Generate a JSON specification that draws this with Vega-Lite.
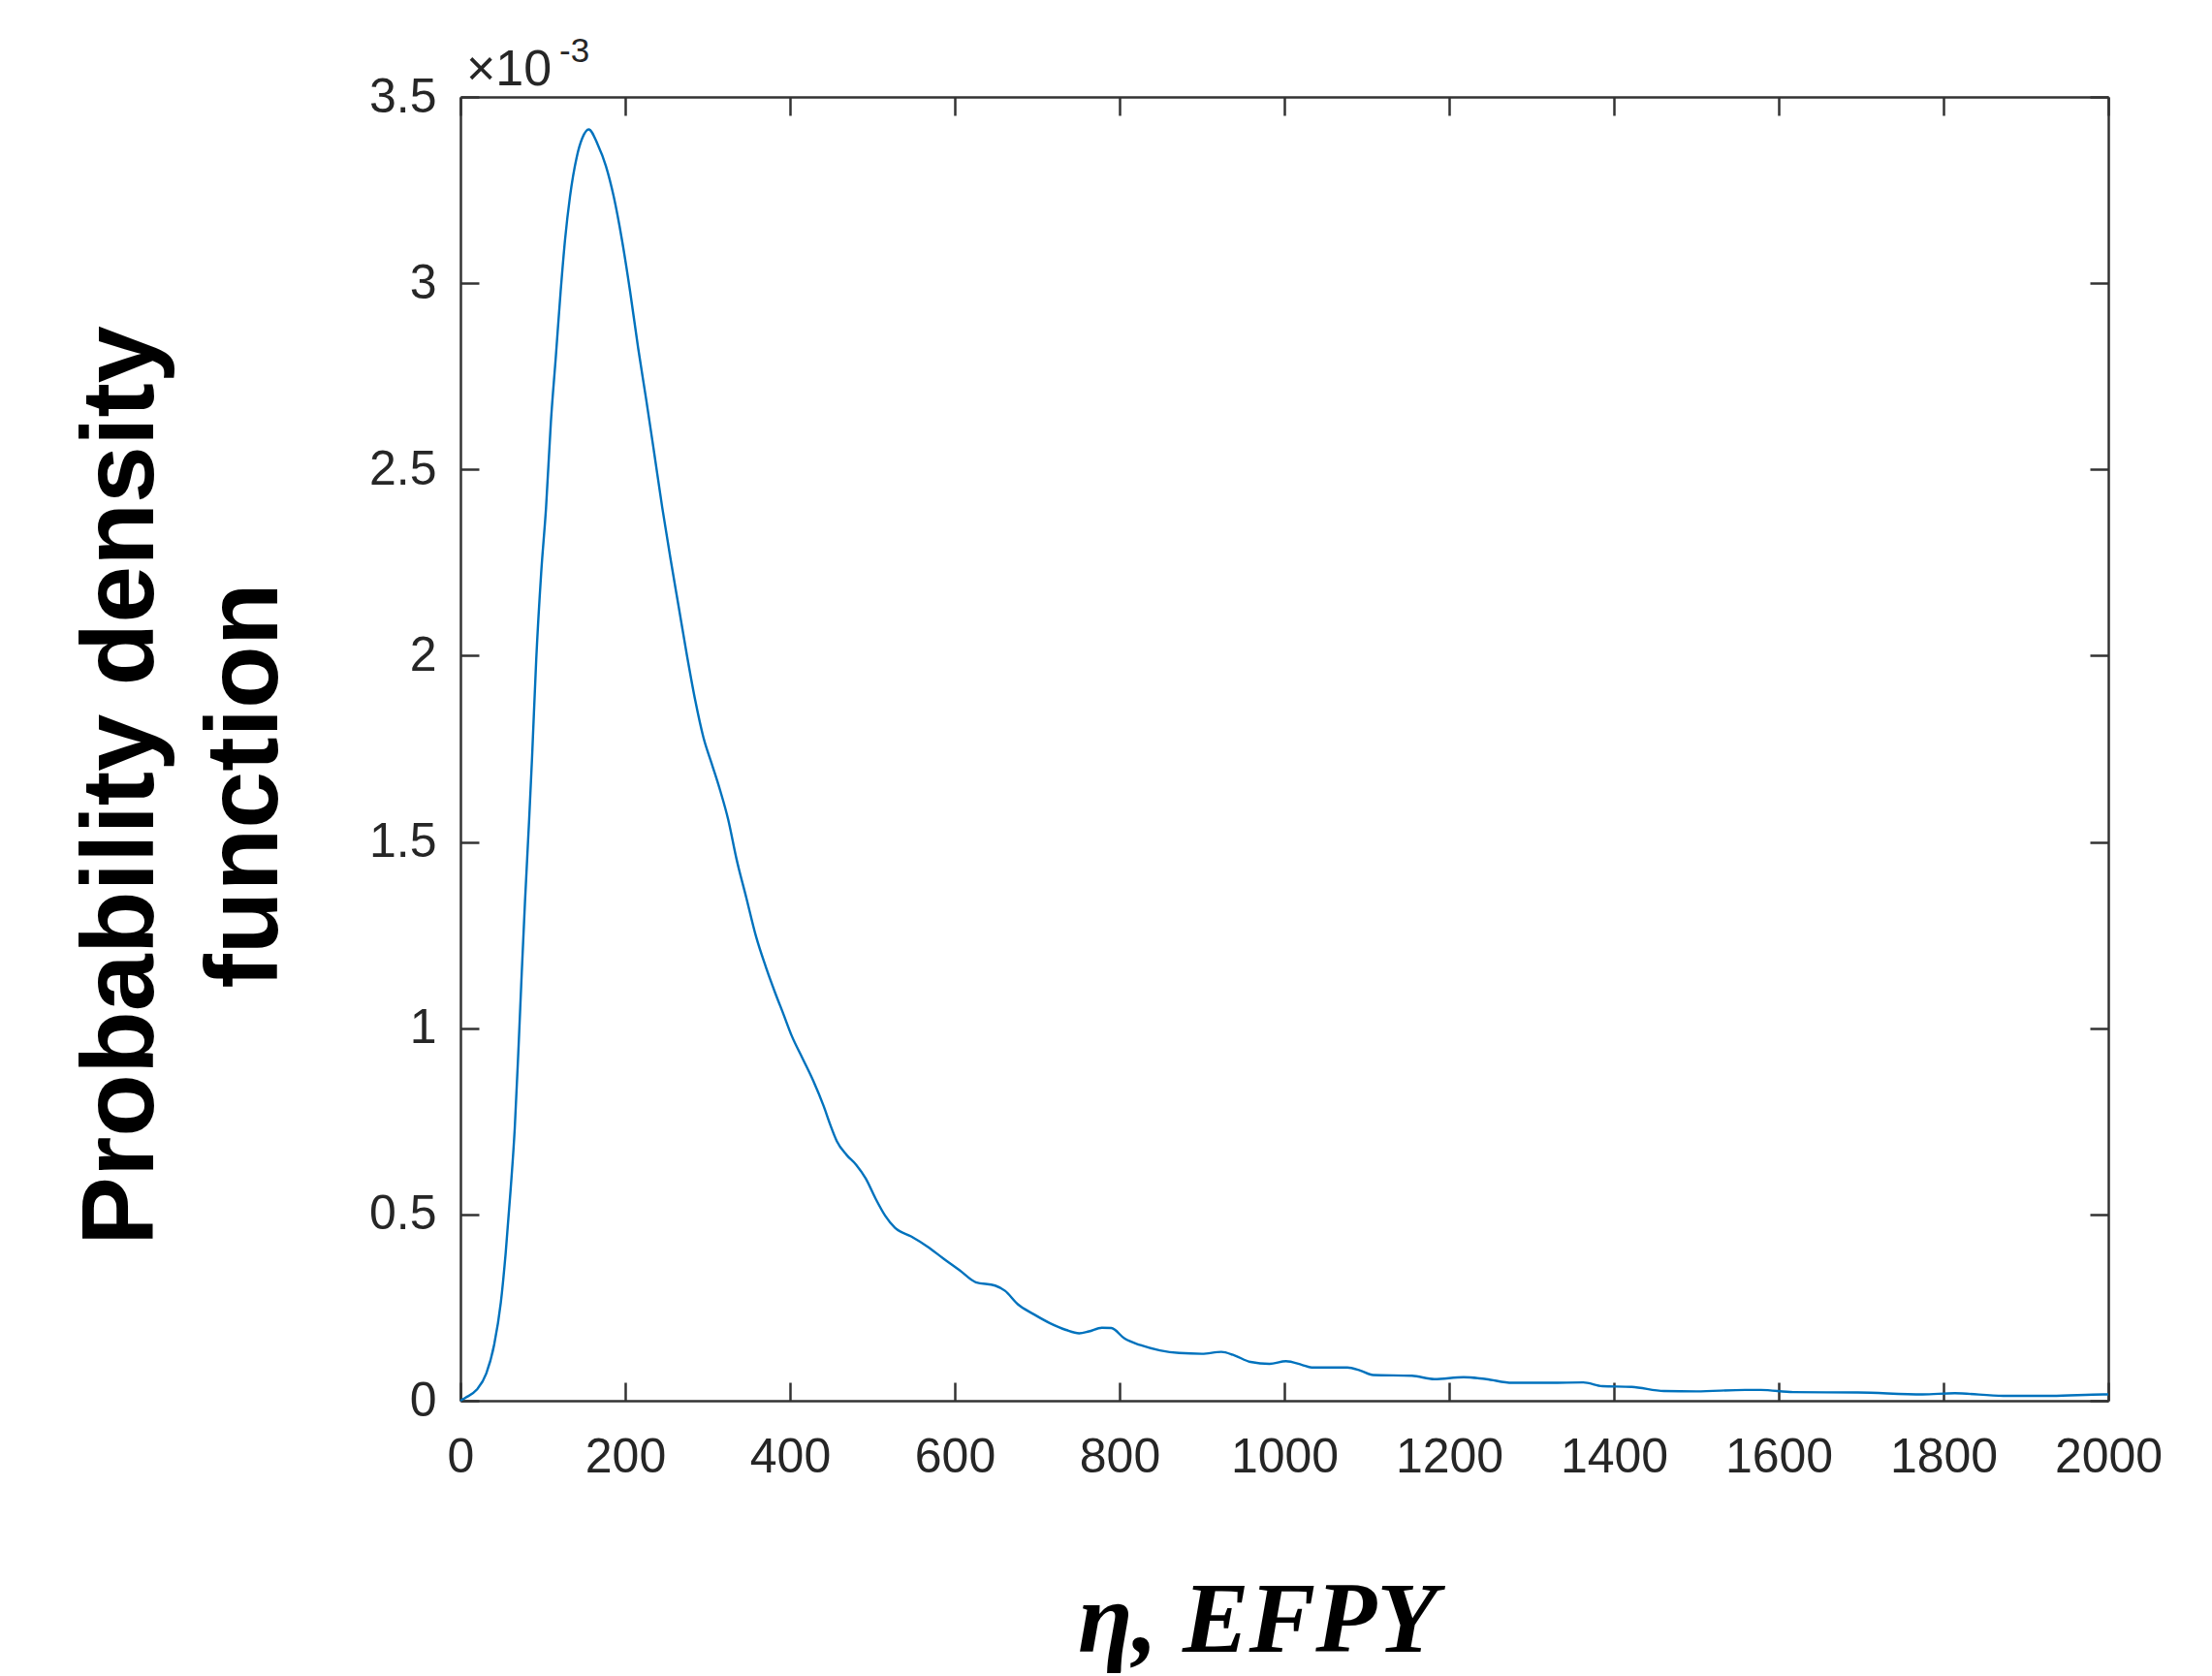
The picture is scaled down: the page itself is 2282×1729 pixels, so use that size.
{
  "$schema": "https://vega.github.io/schema/vega-lite/v6.json",
  "width": 1700,
  "height": 1345,
  "autosize": {"type": "none"},
  "padding": {"left": 475, "top": 100, "right": 107, "bottom": 284},
  "background": "white",
  "config": {"view": {"stroke": null}, "font": "Liberation Sans"},
  "datasets": {
    "pdf": [
      {"eta": 0, "pdf": 0.0},
      {"eta": 6, "pdf": 0.000008},
      {"eta": 19.6, "pdf": 0.000029},
      {"eta": 31.4, "pdf": 0.000073},
      {"eta": 41, "pdf": 0.000151},
      {"eta": 49, "pdf": 0.000263},
      {"eta": 54.9, "pdf": 0.000396},
      {"eta": 60.8, "pdf": 0.000563},
      {"eta": 65.9, "pdf": 0.00073},
      {"eta": 70.6, "pdf": 0.000952},
      {"eta": 74.5, "pdf": 0.001153},
      {"eta": 78.4, "pdf": 0.001341},
      {"eta": 83.5, "pdf": 0.001564},
      {"eta": 87, "pdf": 0.00173},
      {"eta": 92, "pdf": 0.00199},
      {"eta": 98, "pdf": 0.002222},
      {"eta": 103.9, "pdf": 0.002397},
      {"eta": 109.8, "pdf": 0.002628},
      {"eta": 115.7, "pdf": 0.0028},
      {"eta": 121.6, "pdf": 0.002977},
      {"eta": 127, "pdf": 0.003117},
      {"eta": 133, "pdf": 0.003233},
      {"eta": 141, "pdf": 0.003337},
      {"eta": 148, "pdf": 0.00339},
      {"eta": 155.7, "pdf": 0.003413},
      {"eta": 166.7, "pdf": 0.003372},
      {"eta": 176.5, "pdf": 0.003315},
      {"eta": 186, "pdf": 0.003233},
      {"eta": 196, "pdf": 0.003117},
      {"eta": 206, "pdf": 0.002977},
      {"eta": 215.7, "pdf": 0.002826},
      {"eta": 225.5, "pdf": 0.002687},
      {"eta": 235, "pdf": 0.002547},
      {"eta": 245, "pdf": 0.002397},
      {"eta": 255, "pdf": 0.00226},
      {"eta": 265, "pdf": 0.00213},
      {"eta": 275, "pdf": 0.002},
      {"eta": 285, "pdf": 0.00188},
      {"eta": 295, "pdf": 0.00178},
      {"eta": 305, "pdf": 0.00171},
      {"eta": 315, "pdf": 0.00164},
      {"eta": 325, "pdf": 0.00156},
      {"eta": 335, "pdf": 0.001455},
      {"eta": 347, "pdf": 0.00135},
      {"eta": 358.8, "pdf": 0.001246},
      {"eta": 370.6, "pdf": 0.001165},
      {"eta": 382, "pdf": 0.001095},
      {"eta": 392, "pdf": 0.001038},
      {"eta": 402, "pdf": 0.00098},
      {"eta": 415, "pdf": 0.00092},
      {"eta": 428, "pdf": 0.00086},
      {"eta": 441, "pdf": 0.00079},
      {"eta": 449, "pdf": 0.00074},
      {"eta": 456.8, "pdf": 0.000697},
      {"eta": 468.6, "pdf": 0.00066},
      {"eta": 480.4, "pdf": 0.000633},
      {"eta": 492, "pdf": 0.000596},
      {"eta": 504, "pdf": 0.000542},
      {"eta": 515.7, "pdf": 0.000496},
      {"eta": 527.4, "pdf": 0.000464},
      {"eta": 547, "pdf": 0.000441},
      {"eta": 566.7, "pdf": 0.000414},
      {"eta": 586, "pdf": 0.000382},
      {"eta": 606, "pdf": 0.00035},
      {"eta": 625.5, "pdf": 0.000318},
      {"eta": 649, "pdf": 0.000309},
      {"eta": 661, "pdf": 0.000295},
      {"eta": 676.5, "pdf": 0.000259},
      {"eta": 696, "pdf": 0.000232},
      {"eta": 715.7, "pdf": 0.000208},
      {"eta": 735, "pdf": 0.00019},
      {"eta": 751, "pdf": 0.000181},
      {"eta": 762.7, "pdf": 0.000186},
      {"eta": 778.5, "pdf": 0.000196},
      {"eta": 790, "pdf": 0.000195},
      {"eta": 806, "pdf": 0.000167},
      {"eta": 825.5, "pdf": 0.000149},
      {"eta": 849, "pdf": 0.000135},
      {"eta": 872.5, "pdf": 0.000128},
      {"eta": 900, "pdf": 0.000126},
      {"eta": 923.5, "pdf": 0.000131},
      {"eta": 939, "pdf": 0.000122},
      {"eta": 959, "pdf": 0.000104},
      {"eta": 982, "pdf": 0.000099},
      {"eta": 1002, "pdf": 0.000106},
      {"eta": 1021.5, "pdf": 0.000096},
      {"eta": 1033, "pdf": 0.000089},
      {"eta": 1076.5, "pdf": 0.000089},
      {"eta": 1092, "pdf": 0.000081},
      {"eta": 1107.8, "pdf": 0.000069},
      {"eta": 1155, "pdf": 0.000067},
      {"eta": 1182, "pdf": 0.000058},
      {"eta": 1217.6, "pdf": 0.000063},
      {"eta": 1245, "pdf": 0.000058},
      {"eta": 1276.5, "pdf": 0.000048},
      {"eta": 1323.5, "pdf": 0.000048},
      {"eta": 1362.7, "pdf": 0.000049},
      {"eta": 1386, "pdf": 0.000039},
      {"eta": 1421.6, "pdf": 0.000037},
      {"eta": 1460.8, "pdf": 0.000026},
      {"eta": 1500, "pdf": 0.000025},
      {"eta": 1558.8, "pdf": 0.000029},
      {"eta": 1578.4, "pdf": 0.000029},
      {"eta": 1617.6, "pdf": 0.000023},
      {"eta": 1696, "pdf": 0.000022},
      {"eta": 1774.5, "pdf": 0.000017},
      {"eta": 1813.7, "pdf": 0.00002},
      {"eta": 1872.5, "pdf": 0.000013},
      {"eta": 1931.4, "pdf": 0.000013},
      {"eta": 1994, "pdf": 0.000017},
      {"eta": 2000, "pdf": 0.000017}
    ],
    "mult": [{"eta": 0, "pdf": 0.0035, "base": "×10", "exp": "-3"}]
  },
  "resolve": {"axis": {"x": "independent", "y": "independent"}},
  "layer": [
    {
      "data": {"name": "pdf"},
      "mark": {"type": "line", "color": "#0072BD", "strokeWidth": 2.4, "interpolate": "monotone"},
      "encoding": {
        "x": {
          "field": "eta", "type": "quantitative",
          "scale": {"domain": [0, 2000], "nice": false, "zero": false},
          "axis": {
            "orient": "bottom",
            "values": [0, 200, 400, 600, 800, 1000, 1200, 1400, 1600, 1800, 2000],
            "format": "d",
            "grid": false,
            "domainColor": "#333333", "domainWidth": 2.5,
            "tickColor": "#333333", "tickWidth": 2.5, "tickSize": -19,
            "labelFont": "Liberation Sans", "labelFontSize": 50, "labelColor": "#262626",
            "labelPadding": 52, "labelFlush": false, "labelOverlap": false,
            "title": "η, EFPY",
            "titleFont": "Liberation Serif", "titleFontStyle": "italic", "titleFontWeight": "bold",
            "titleFontSize": 103, "titleColor": "black",
            "titleX": 822, "titleY": 258, "titleBaseline": "alphabetic", "titleAlign": "center"
          }
        },
        "y": {
          "field": "pdf", "type": "quantitative",
          "scale": {"domain": [0, 0.0035], "nice": false},
          "axis": {
            "orient": "left",
            "values": [0, 0.0005, 0.001, 0.0015, 0.002, 0.0025, 0.003, 0.0035],
            "labelExpr": "format(datum.value*1000, '.1~f')",
            "grid": false,
            "domainColor": "#333333", "domainWidth": 2.5,
            "tickColor": "#333333", "tickWidth": 2.5, "tickSize": -19,
            "labelFont": "Liberation Sans", "labelFontSize": 50, "labelColor": "#262626",
            "labelPadding": 44, "labelFlush": false, "labelOverlap": false,
            "title": ["Probability density", "function"],
            "titleFont": "Liberation Sans", "titleFontWeight": "bold", "titleFontSize": 106,
            "titleLineHeight": 128, "titleColor": "black",
            "titleAngle": -90, "titleX": -318, "titleY": 710,
            "titleBaseline": "alphabetic", "titleAlign": "center"
          }
        }
      }
    },
    {
      "data": {"name": "pdf"},
      "mark": {"type": "line", "opacity": 0},
      "encoding": {
        "x": {
          "field": "eta", "type": "quantitative",
          "axis": {
            "orient": "top",
            "values": [0, 200, 400, 600, 800, 1000, 1200, 1400, 1600, 1800, 2000],
            "grid": false, "labels": false, "title": null,
            "domainColor": "#333333", "domainWidth": 2.5,
            "tickColor": "#333333", "tickWidth": 2.5, "tickSize": -19
          }
        },
        "y": {
          "field": "pdf", "type": "quantitative",
          "axis": {
            "orient": "right",
            "values": [0, 0.0005, 0.001, 0.0015, 0.002, 0.0025, 0.003, 0.0035],
            "grid": false, "labels": false, "title": null,
            "domainColor": "#333333", "domainWidth": 2.5,
            "tickColor": "#333333", "tickWidth": 2.5, "tickSize": -19
          }
        }
      }
    },
    {
      "data": {"name": "mult"},
      "mark": {"type": "text", "align": "left", "baseline": "alphabetic", "dx": 6, "dy": -12, "fontSize": 52, "font": "Liberation Sans", "color": "#262626"},
      "encoding": {
        "x": {"field": "eta", "type": "quantitative", "axis": null},
        "y": {"field": "pdf", "type": "quantitative", "axis": null},
        "text": {"field": "base"}
      }
    },
    {
      "data": {"name": "mult"},
      "mark": {"type": "text", "align": "left", "baseline": "alphabetic", "dx": 102, "dy": -36, "fontSize": 35, "font": "Liberation Sans", "color": "#262626"},
      "encoding": {
        "x": {"field": "eta", "type": "quantitative", "axis": null},
        "y": {"field": "pdf", "type": "quantitative", "axis": null},
        "text": {"field": "exp"}
      }
    }
  ]
}
